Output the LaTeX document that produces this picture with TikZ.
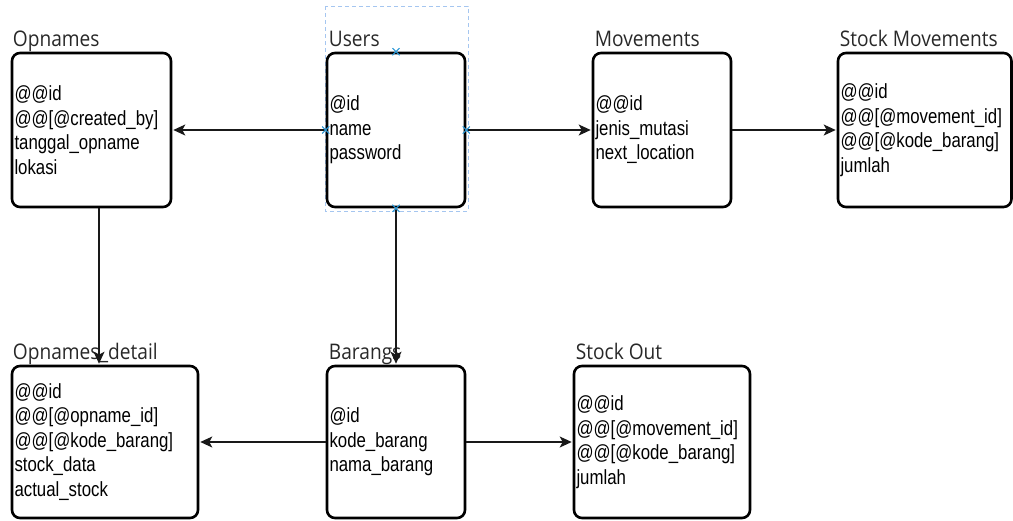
\documentclass[tikz,border=0pt]{standalone}
\usepackage{fontspec}
\setmainfont{Liberation Sans}
\newfontfamily\bodyfont[FakeStretch=0.82]{Liberation Sans}
\newfontfamily\titlefont[FakeStretch=0.89]{Open Sans}
\usetikzlibrary{arrows.meta,shapes.misc}
\definecolor{selblue}{RGB}{165,198,240}
\definecolor{mkblue}{RGB}{41,151,214}
\definecolor{titlegray}{RGB}{40,40,40}
\tikzset{
  entity/.style={draw=black, line width=2.6pt, rounded corners=8pt, fill=white,
    inner xsep=2.5pt, inner ysep=0pt, align=left,
    font=\bodyfont\fontsize{20.5}{24.5}\selectfont},
  etitle/.style={anchor=base west, inner sep=0pt, text=titlegray,
    font=\titlefont\fontsize{21.5}{24}\selectfont},
  arr/.style={draw=black!90, line width=1.3pt, shorten >=1pt,
    -{Stealth[length=12pt,width=11pt,inset=3pt]}},
  marker/.style={cross out, draw=mkblue, line width=1.1pt, minimum size=6pt, inner sep=0pt},
  selbox/.style={draw=selblue, line width=0.9pt, dash pattern=on 4pt off 3pt}
}
\begin{document}
\begin{tikzpicture}[x=1pt,y=-1pt]
\useasboundingbox (0,0) rectangle (1013,520);
% selection frame
\draw[selbox] (325,6) rectangle (468,211);
% entities
\node[entity, text width=154pt, minimum height=154pt] (opn) at (91.5,130)
  {@@id\\@@[@created\_by]\\tanggal\_opname\\lokasi};
\node[entity, text width=133pt, minimum height=154pt] (users) at (396,130)
  {@id\\name\\password};
\node[entity, text width=133pt, minimum height=154pt] (mov) at (662,130)
  {@@id\\jenis\_mutasi\\next\_location};
\node[entity, text width=168.5pt, minimum height=154pt] (sm) at (924.75,130)
  {@@id\\@@[@movement\_id]\\@@[@kode\_barang]\\jumlah};
\node[entity, text width=181pt, minimum height=152pt] (od) at (105,442)
  {@@id\\@@[@opname\_id]\\@@[@kode\_barang]\\stock\_data\\actual\_stock};
\node[entity, text width=133pt, minimum height=152pt] (bar) at (396,442)
  {@id\\kode\_barang\\nama\_barang};
\node[entity, text width=171pt, minimum height=152pt] (so) at (662,442)
  {@@id\\@@[@movement\_id]\\@@[@kode\_barang]\\jumlah};
% titles
\node[etitle] (opnT) at ([shift={(2,-5.5)}]opn.north west) {Opnames};
\node[etitle] (usersT) at ([shift={(3,-5.5)}]users.north west) {Users};
\node[etitle] (movT) at ([shift={(3,-5.5)}]mov.north west) {Movements};
\node[etitle] (smT) at ([shift={(3,-5.5)}]sm.north west) {Stock Movements};
\node[etitle] (odT) at ([shift={(2,-5.5)}]od.north west) {Opnames\_detail};
\node[etitle] (barT) at ([shift={(3,-5.5)}]bar.north west) {Barangs};
\node[etitle] (soT) at ([shift={(3,-5.5)}]so.north west) {Stock Out};
% connectors
\draw[arr] (users.west) -- (opn.east);
\draw[arr] (users.east) -- (mov.west);
\draw[arr] (mov.east) -- (sm.west);
\draw[arr] ([xshift=7.5pt]opn.south) -- ([xshift=7.5pt]opn.south |- od.north);
\draw[arr] (users.south) -- (users.south |- bar.north);
\draw[arr] (bar.west) -- (od.east);
\draw[arr] (bar.east) -- (so.west);
% selection markers
\node[marker] (m1) at (users.north) {};
\node[marker] (m2) at (users.south) {};
\node[marker] (m3) at (users.west) {};
\node[marker] (m4) at (users.east) {};
\end{tikzpicture}
\end{document}
